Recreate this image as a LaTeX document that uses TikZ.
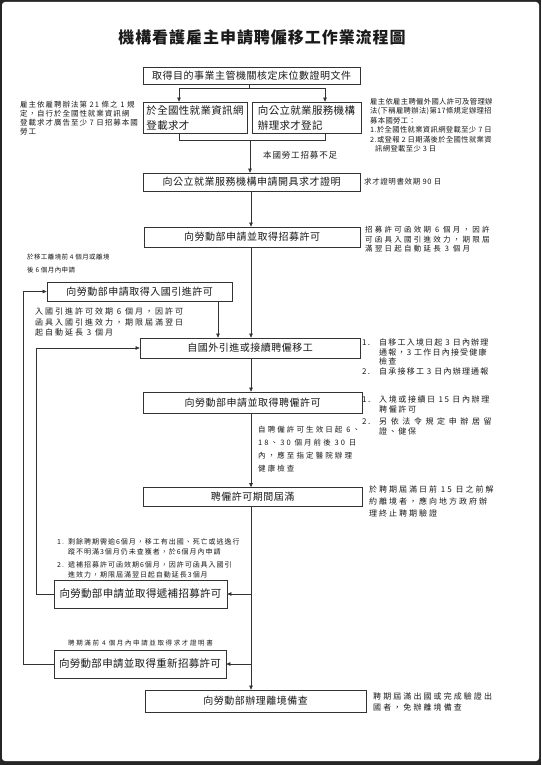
\documentclass[tikz,border=0pt]{standalone}
\usepackage{fontspec}
\setmainfont{Noto Sans CJK TC}
\usetikzlibrary{arrows.meta}
\definecolor{frame}{HTML}{262626}
\definecolor{ink}{HTML}{1A1A1A}
\definecolor{linec}{HTML}{333333}
\newcommand\tsz[3]{\fontsize{#1}{#2}\selectfont\addfontfeatures{LetterSpace=#3}}
\begin{document}
\begin{tikzpicture}[x=1pt,y=-1pt,
  box/.style={draw=linec,line width=0.7pt,inner sep=0pt,text=ink,font=\tsz{10}{12}{5}},
  note/.style={inner sep=0pt,align=left,text=ink,anchor=north west},
  arr/.style={draw=linec,line width=0.6pt,-{Triangle[length=4pt,width=3.5pt]}},
  ln/.style={draw=linec,line width=0.6pt}]
\fill[frame] (0,0) rectangle (541,765);
\fill[white,rounded corners=3pt] (2,2) rectangle (539,761);
\useasboundingbox (0,0) rectangle (541,765);

% title
\node[font=\bfseries\tsz{16}{18}{6},text=ink] (title) at (262,37) {機構看護雇主申請聘僱移工作業流程圖};

% main boxes
\node[box,minimum width=217pt,minimum height=17pt] (b1) at (251.5,75.5) {取得目的事業主管機關核定床位數證明文件};
\node[box,minimum width=104pt,minimum height=31pt,align=left,font=\tsz{10.5}{15}{3}] (b2a) at (195,117.5) {於全國性就業資訊網\\登載求才};
\node[box,minimum width=109pt,minimum height=31pt,align=left,font=\tsz{10.5}{15}{3}] (b2b) at (306.5,117.5) {向公立就業服務機構\\辦理求才登記};
\node[box,minimum width=217pt,minimum height=18pt] (b3) at (251.5,182) {向公立就業服務機構申請開具求才證明};
\node[box,minimum width=216pt,minimum height=20pt] (b4) at (252,237) {向勞動部申請並取得招募許可};
\node[box,minimum width=185pt,minimum height=19pt] (bE) at (139.5,291.5) {向勞動部申請取得入國引進許可};
\node[box,minimum width=220pt,minimum height=20pt] (b5) at (250,348) {自國外引進或接續聘僱移工};
\node[box,minimum width=219pt,minimum height=21pt] (b6) at (252.5,402.5) {向勞動部申請並取得聘僱許可};
\node[box,minimum width=219pt,minimum height=19pt] (b7) at (252.5,497) {聘僱許可期間屆滿};
\node[box,minimum width=173pt,minimum height=28pt,font=\tsz{10.5}{12}{3}] (b8) at (140.5,594) {向勞動部申請並取得遞補招募許可};
\node[box,minimum width=172pt,minimum height=28pt,font=\tsz{10.5}{12}{3}] (b9) at (140,664) {向勞動部申請並取得重新招募許可};
\node[box,minimum width=221pt,minimum height=22pt] (b10) at (255.5,701) {向勞動部辦理離境備查};

% connectors
\coordinate (s1) at (249,88);
\coordinate (sL) at (179,88);
\coordinate (sR) at (325,88);
\draw[ln] (s1 |- b1.south) -- (s1);
\draw[ln] (sL) -- (sR);
\draw[arr] (sL) -- (sL |- b2a.north);
\draw[arr] (sR) -- (sR |- b2b.north);
\coordinate (jL) at (179,140);
\coordinate (jR) at (325,140);
\coordinate (jC) at (250,140);
\draw[ln] (jL |- b2a.south) -- (jL) -- (jR) -- (jR |- b2b.south);
\draw[arr] (jC) -- (jC |- b3.north);
\node[note,anchor=west,font=\tsz{8.5}{10}{10}] (lab) at (263,155) {本國勞工招募不足};

\coordinate (mx) at (251,0);
\coordinate (ex) at (218,0);
\draw[arr] (mx |- b3.south) -- (mx |- b4.north);
\draw[arr] (mx |- b4.south) -- (mx |- b5.north);
\draw[arr] (ex |- bE.south) -- (ex |- b5.north);
\draw[arr] (mx |- b5.south) -- (mx |- b6.north);
\draw[arr] (mx |- b6.south) -- (mx |- b7.north);
\draw[arr] (mx |- b7.south) -- (mx |- b10.north);
\draw[arr] (mx |- b8.east) -- (b8.east);
\draw[arr] (mx |- b9.east) -- (b9.east);
\coordinate (l1) at (36,0);
\coordinate (l2) at (23,0);
\draw[arr] (b8.west) -- (l1 |- b8.west) -- (l1 |- b5.west) -- (b5.west);
\draw[arr] (b9.west) -- (l2 |- b9.west) -- (l2 |- bE.west) -- (bE.west);

% notes
\node[note,font=\tsz{7.5}{9}{13}] (n1) at (20,101) {雇主依雇聘辦法第 21 條之 1 規\\定，自行於全國性就業資訊網\\登載求才廣告至少 7 日招募本國\\勞工};
\node[note,font=\tsz{7.3}{9.5}{5}] (n2) at (370,98) {雇主依雇主聘僱外國人許可及管理辦\\法(下稱雇聘辦法)第17條規定辦理招\\募本國勞工：\\1.於全國性就業資訊網登載至少 7 日\\2.或登報 2 日期滿後於全國性就業資\\\hspace*{5pt}訊網登載至少 3 日};
\node[note,anchor=west,font=\tsz{7.5}{9}{8}] (n3) at (364,182) {求才證明書效期 90 日};
\node[note,font=\tsz{7.5}{9.5}{30}] (n4) at (365,226) {招募許可函效期 6 個月，因許\\可函具入國引進效力，期限屆\\滿翌日起自動延長 3 個月};
\node[note,font=\tsz{6.5}{13}{6}] (n5) at (27,253.5) {於移工離境前 4 個月或離境\\後 6 個月內申請};
\node[note,font=\tsz{8}{10.5}{25}] (n6) at (35,308) {入國引進許可效期 6 個月，因許可\\函具入國引進效力，期限屆滿翌日\\起自動延長 3 個月};
\node[note,font=\tsz{8}{9.5}{15}] (n7) at (362,339) {\makebox[17pt][l]{1.}自移工入境日起 3 日內辦理\\\hspace*{17pt}通報，3 工作日內接受健康\\\hspace*{17pt}檢查\\\makebox[17pt][l]{2.}自承接移工 3 日內辦理通報};
\node[note,font=\tsz{8}{9.5}{20}] (n8) at (362,396) {\makebox[17pt][l]{1.}入境或接續日 15 日內辦理\\\hspace*{17pt}聘僱許可\\[3pt]\makebox[17pt][l]{2.}{\addfontfeatures{LetterSpace=45}另依法令規定申辦居留}\\\hspace*{17pt}證、健保};
\node[note,font=\tsz{7.5}{13}{28}] (n9) at (258,426) {自聘僱許可生效日起 6、\\18、30 個月前後 30 日\\內，應至指定醫院辦理\\健康檢查};
\node[note,font=\tsz{8}{12}{25}] (n10) at (369,486) {於聘期屆滿日前 15 日之前解\\約離境者，應向地方政府辦\\理終止聘期驗證};
\node[note,font=\tsz{7}{10}{14}] (n11) at (57,538.5) {\makebox[11pt][l]{1.}剩餘聘期需逾6個月，移工有出國、死亡或逃逸行\\\hspace*{11pt}蹤不明滿3個月仍未查獲者，於6個月內申請\\[3pt]\makebox[11pt][l]{2.}遞補招募許可函效期6個月，因許可函具入國引\\\hspace*{11pt}進效力，期限屆滿翌日起自動延長3個月};
\node[note,anchor=west,font=\tsz{6.5}{8}{25}] (n12) at (68,643) {聘期滿前 4 個月內申請並取得求才證明書};
\node[note,font=\tsz{8}{11}{26}] (n13) at (373,692) {聘期屆滿出國或完成驗證出\\國者，免辦離境備查};
\end{tikzpicture}
\end{document}
